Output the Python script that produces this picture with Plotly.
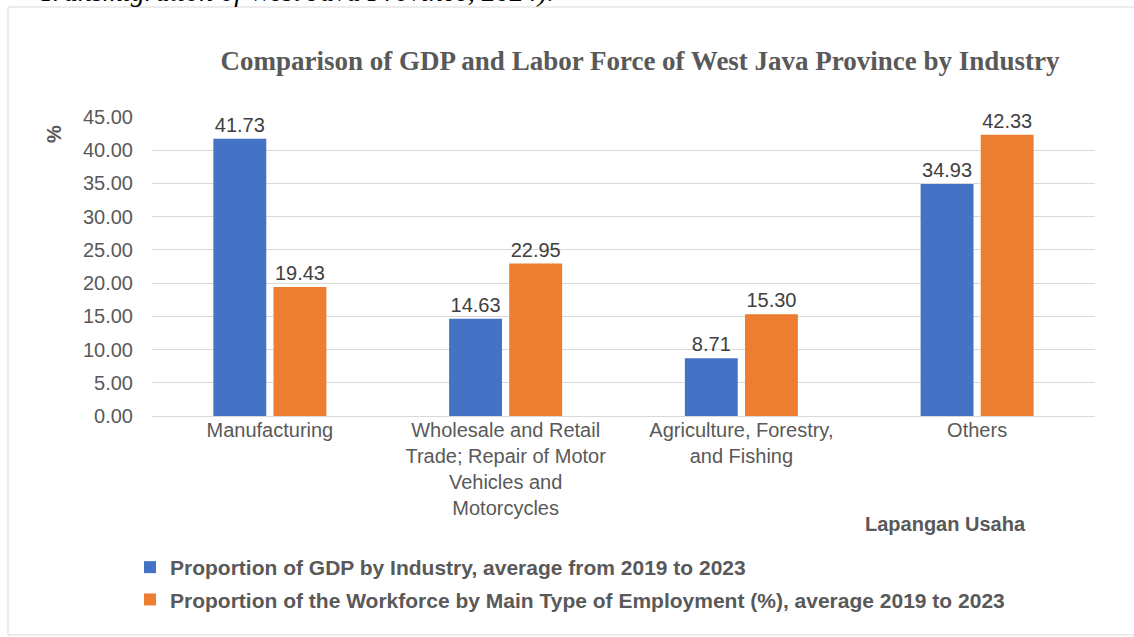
import plotly.graph_objects as go

categories = [
    "Manufacturing",
    "Wholesale and Retail<br>Trade; Repair of Motor<br>Vehicles and<br>Motorcycles",
    "Agriculture, Forestry,<br>and Fishing",
    "Others",
]
gdp_share = [41.73, 14.63, 8.71, 34.93]
workforce_share = [19.43, 22.95, 15.30, 42.33]
series_names = [
    "Proportion of GDP by Industry, average from 2019 to 2023",
    "Proportion of the Workforce by Main Type of Employment (%), average 2019 to 2023",
]
tick_vals = [0, 5, 10, 15, 20, 25, 30, 35, 40, 45]
tick_text = ["0.00", "5.00", "10.00", "15.00", "20.00", "25.00", "30.00", "35.00", "40.00", "45.00"]

W, H = 1134, 637
ML, MR, MT, MB = 152, 39, 117, 221
PW, PH = W - ML - MR, H - MT - MB


def px_x(x):
    return (x - ML) / PW


def px_y(y):
    return 1 - (y - MT) / PH


SANS = "Liberation Sans, Arial, sans-serif"
SERIF = "Liberation Serif, Times New Roman, serif"
BLUE = "#4472C4"
ORANGE = "#ED7D31"

fig = go.Figure()
for i, (name, vals, col) in enumerate([(series_names[0], gdp_share, BLUE), (series_names[1], workforce_share, ORANGE)]):
    fig.add_trace(go.Bar(
        x=categories, y=vals, name=name, legendgroup=f"g{i}",
        marker=dict(color=col, line=dict(width=0)),
        text=[f"{v:.2f}" for v in vals], textposition="outside",
        textfont=dict(family=SANS, size=20, color="#404040"),
        cliponaxis=False,
    ))

fig.update_layout(
    width=W, height=H,
    margin=dict(l=ML, r=MR, t=MT, b=MB, autoexpand=False),
    paper_bgcolor="white", plot_bgcolor="white",
    barmode="group", bargap=0.49, bargroupgap=0.12,
    font=dict(family=SANS, color="#595959"),
    title=dict(
        text="<b>Comparison of GDP and Labor Force of West Java Province by Industry</b>",
        font=dict(family=SERIF, size=27, color="#595959"),
        x=px_x(640), xref="paper", xanchor="center",
        y=1 - 61 / H, yanchor="middle",
    ),
    showlegend=True,
    legend=dict(
        orientation="v", x=px_x(130), y=px_y(547), xanchor="left", yanchor="top",
        xref="paper", yref="paper", tracegroupgap=2,
        font=dict(family=SANS, size=21, color="#595959", weight="bold"),
        bgcolor="rgba(0,0,0,0)", itemclick=False, itemdoubleclick=False,
    ),
    xaxis=dict(
        showgrid=False, showline=False, ticks="",
        tickfont=dict(family=SANS, size=20, color="#595959"),
    ),
    yaxis=dict(
        range=[0, 45], tickvals=tick_vals, ticktext=tick_text,
        showgrid=True, gridcolor="#D9D9D9", gridwidth=1,
        zeroline=True, zerolinecolor="#D9D9D9", zerolinewidth=1,
        showline=False, ticks="", ticklabelstandoff=18,
        tickfont=dict(family=SANS, size=20, color="#595959"),
    ),
)

annotations = [
    dict(text="<b>%</b>", x=px_x(54), y=px_y(134), xref="paper", yref="paper",
         showarrow=False, textangle=-90, font=dict(family=SANS, size=20, color="#595959"),
         xanchor="center", yanchor="middle"),
    dict(text="<b>Lapangan Usaha</b>", x=px_x(945), y=px_y(524), xref="paper", yref="paper",
         showarrow=False, font=dict(family=SANS, size=20, color="#595959"),
         xanchor="center", yanchor="middle"),
    dict(text="<i>Transmigration of West Java Province, 2024).</i>", x=px_x(556), y=px_y(9),
         xref="paper", yref="paper", showarrow=False,
         font=dict(family=SERIF, size=28, color="#000000"),
         xanchor="right", yanchor="bottom"),
]
fig.update_layout(annotations=annotations)

fig.add_shape(type="rect", xref="paper", yref="paper",
              x0=px_x(8), x1=px_x(1140), y0=px_y(635), y1=px_y(7),
              line=dict(color="#D9D9D9", width=1), fillcolor="rgba(0,0,0,0)", layer="below")

fig.write_html("out.html", config={"displayModeBar": False},
               post_script="document.body.style.margin='0';")
